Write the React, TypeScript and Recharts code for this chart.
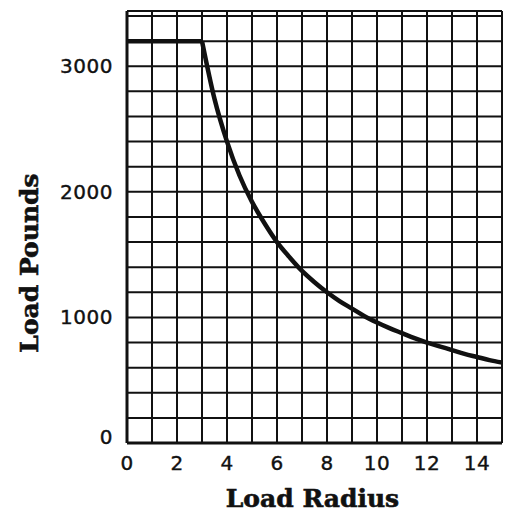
import React from 'react';
import { LineChart, Line, XAxis, YAxis, CartesianGrid, Label } from 'recharts';

const flatRadius = [0, 3];
const flatLoad = [3200, 3200];

const curveRadius = [3, 3.5, 4, 4.5, 5, 5.5, 6, 6.5, 7, 7.5, 8, 8.5, 9, 9.5, 10, 10.5, 11, 11.5, 12, 12.5, 13, 13.5, 14, 14.5, 15];
const curveLoad = [3200, 2740, 2400, 2130, 1920, 1750, 1600, 1480, 1370, 1280, 1200, 1130, 1070, 1010, 960, 915, 875, 835, 800, 770, 740, 710, 685, 660, 640];

const xTicks = [0, 1, 2, 3, 4, 5, 6, 7, 8, 9, 10, 11, 12, 13, 14, 15];
const xLabels = ['0', '', '2', '', '4', '', '6', '', '8', '', '10', '', '12', '', '14', ''];
const yTicks = [0, 200, 400, 600, 800, 1000, 1200, 1400, 1600, 1800, 2000, 2200, 2400, 2600, 2800, 3000, 3200, 3400, 3440];
const yLabeled = [0, 1000, 2000, 3000];

const flatData = flatRadius.map((r, i) => ({ r, load: flatLoad[i] }));
const curveData = curveRadius.map((r, i) => ({ r, load: curveLoad[i] }));

const tickFont = {
  fontFamily: 'DejaVu Sans',
  fontSize: 20,
  fill: '#111',
  stroke: '#111',
  strokeWidth: 0.4,
  letterSpacing: 0.5,
};

const titleStyle = {
  fontFamily: 'DejaVu Serif',
  fontWeight: 'bold' as const,
  fontSize: 25,
  fill: '#111',
  stroke: '#111',
  strokeWidth: 0.6,
};

const YTick = (props: any) => {
  const { x, y, payload } = props;
  if (!yLabeled.includes(payload.value)) return null;
  const dy = payload.value === 0 ? -6 : 0;
  return (
    <text x={x} y={y + dy} dy={7} textAnchor="end" {...tickFont}>
      {String(payload.value)}
    </text>
  );
};

const XTick = (props: any) => {
  const { x, y, payload } = props;
  const label = xLabels[xTicks.indexOf(payload.value)];
  if (!label) return null;
  return (
    <text x={x} y={y} dy={19} textAnchor="middle" {...tickFont}>
      {label}
    </text>
  );
};

const YTitle = (props: any) => {
  const { viewBox } = props;
  const cx = viewBox.x + 21;
  const cy = viewBox.y + viewBox.height / 2 + 36;
  return (
    <text
      x={cx}
      y={cy}
      textAnchor="middle"
      dominantBaseline="central"
      transform={`rotate(-90, ${cx}, ${cy})`}
      {...titleStyle}
    >
      Load Pounds
    </text>
  );
};

const XTitle = (props: any) => {
  const { viewBox } = props;
  const cx = viewBox.x + viewBox.width / 2 - 2;
  const cy = viewBox.y + viewBox.height - 5;
  return (
    <text x={cx} y={cy} textAnchor="middle" {...titleStyle}>
      Load Radius
    </text>
  );
};

export default function App() {
  return (
    <LineChart width={503} height={504} margin={{ top: 3, right: 9, bottom: 0, left: 0 }}>
      <CartesianGrid stroke="#111" strokeWidth={2} horizontal vertical />
      <XAxis
        type="number"
        dataKey="r"
        domain={[0, 15]}
        ticks={xTicks}
        interval={0}
        height={69}
        tick={<XTick />}
        tickLine={false}
        axisLine={{ stroke: '#111', strokeWidth: 3 }}
        allowDataOverflow
      >
        <Label content={<XTitle />} />
      </XAxis>
      <YAxis
        type="number"
        dataKey="load"
        domain={[0, 3440]}
        ticks={yTicks}
        interval={0}
        width={119}
        tick={<YTick />}
        tickLine={false}
        tickMargin={8}
        axisLine={{ stroke: '#111', strokeWidth: 3 }}
        allowDataOverflow
      >
        <Label content={<YTitle />} />
      </YAxis>
      <Line data={flatData} dataKey="load" type="linear" stroke="#111" strokeWidth={4.5} dot={false} isAnimationActive={false} />
      <Line data={curveData} dataKey="load" type="monotone" stroke="#111" strokeWidth={4.5} dot={false} isAnimationActive={false} />
    </LineChart>
  );
}
